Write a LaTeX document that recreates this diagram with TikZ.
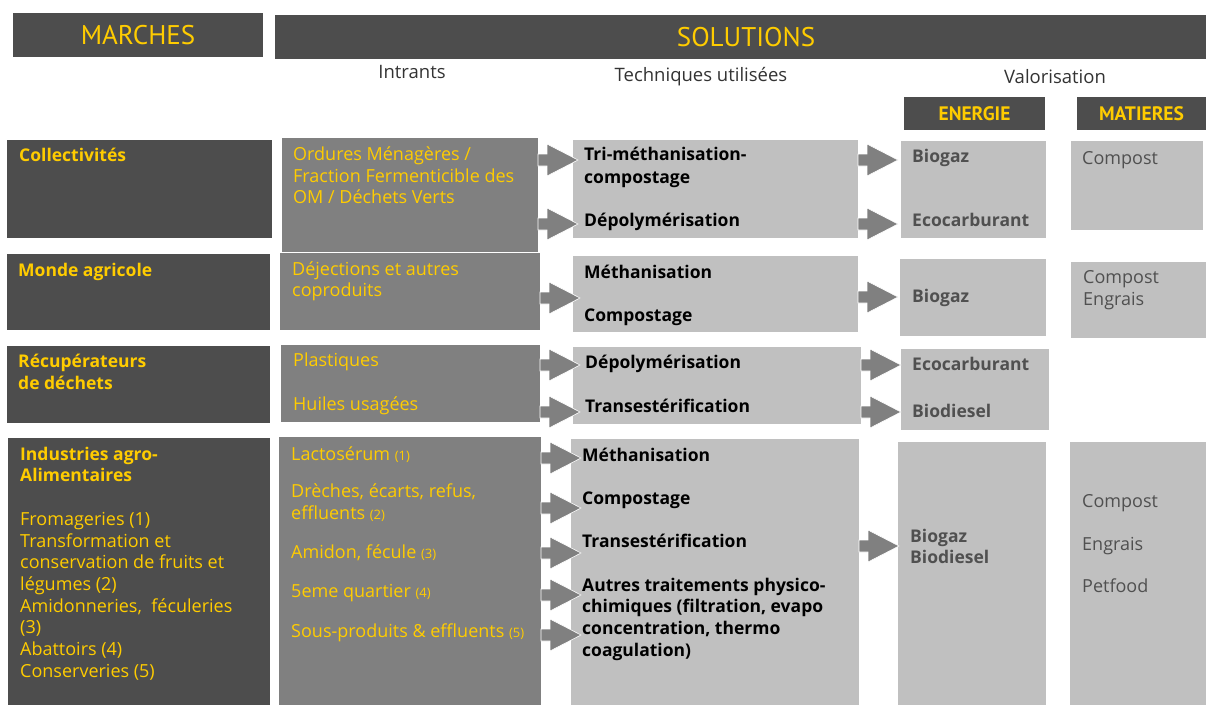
\documentclass[tikz,border=0pt]{standalone}
\usepackage{fontspec}
\setmainfont{Open Sans}
\newfontfamily\headfont{PT Sans}
\definecolor{dark}{HTML}{4D4D4D}
\definecolor{mid}{HTML}{808080}
\definecolor{light}{HTML}{C0C0C0}
\definecolor{gold}{HTML}{FFCC00}
\definecolor{valtext}{HTML}{505050}
\definecolor{lbltext}{HTML}{333333}
\tikzset{
  box/.style={anchor=north west, inner sep=0pt, outer sep=0pt, draw=none},
  darkbox/.style={box, fill=dark},
  midbox/.style={box, fill=mid},
  lightbox/.style={box, fill=light},
  txt/.style={anchor=mid west, inner sep=0pt, yshift=-3pt, font=\fontsize{18}{20}\selectfont},
  ytxt/.style={txt, text=gold},
  ybold/.style={txt, text=gold, font=\fontsize{17.5}{20}\selectfont\bfseries},
  ktxt/.style={txt, text=black, font=\fontsize{17.5}{20}\selectfont\bfseries},
  etxt/.style={txt, text=valtext, font=\fontsize{17.5}{20}\selectfont\bfseries},
  mtxt/.style={txt, text=valtext},
  hdr/.style={inner sep=0pt, text=gold, font=\headfont\fontsize{27}{30}\selectfont},
  subhdr/.style={inner sep=0pt, text=gold, font=\headfont\fontsize{19.5}{22}\selectfont\bfseries},
  lbl/.style={inner sep=0pt, text=lbltext, font=\fontsize{18.5}{21}\selectfont},
  arrowfill/.style={fill=mid, draw=white, line width=0.6pt}
}
% block arrow: shaft 9 long, head 31 long, starting at the given point
\newcommand\blockarrow[1]{%
  \filldraw[arrowfill] #1 ++(0,-6) -- ++(9,0) -- ++(0,-10) -- ++(31,16)
    -- ++(-31,16) -- ++(0,-10) -- ++(-9,0) -- cycle;}
\newcommand\sm[1]{{\fontsize{13}{15}\selectfont #1}}
\begin{document}
\begin{tikzpicture}[x=1pt,y=-1pt]
\useasboundingbox (0,0) rectangle (1206,705);

% ---- headers ----
\node[darkbox, minimum width=250, minimum height=44] (hm) at (13,13) {};
\node[hdr] at (hm.center) {MARCHES};
\node[darkbox, minimum width=931, minimum height=44] (hs) at (275,15) {};
\node[hdr] at (746,37) {SOLUTIONS};
\node[lbl] at (412,72) {Intrants};
\node[lbl] at (701,77) {Techniques utilisées};
\node[lbl] at (1055,77) {Valorisation};
\node[darkbox, minimum width=141, minimum height=33] (he) at (904,97) {};
\node[subhdr] at (he.center) {ENERGIE};
\node[darkbox, minimum width=129, minimum height=33] (hp) at (1077,97) {};
\node[subhdr] at (hp.center) {MATIERES};

% ---- row 1 : Collectivités ----
\node[darkbox, minimum width=265, minimum height=98] (m1) at (7,140) {};
\node[midbox, minimum width=256, minimum height=114] (i1) at (282,138) {};
\node[lightbox, minimum width=285, minimum height=98] (t1) at (573,140) {};
\node[lightbox, minimum width=145, minimum height=97] (e1) at (901,141) {};
\node[lightbox, minimum width=132, minimum height=89] (p1) at (1071,141) {};
\node[ybold] at (19,156) {Collectivités};
\node[ytxt] at (293,155) {Ordures Ménagères /};
\node[ytxt] at (293,177) {Fraction Fermenticible des};
\node[ytxt] at (293,198) {OM / Déchets Verts};
\node[ktxt] at (584,155) {Tri-méthanisation-};
\node[ktxt] at (584,178) {compostage};
\node[ktxt] at (584,221) {Dépolymérisation};
\node[etxt] at (912,157) {Biogaz};
\node[etxt] at (912,221) {Ecocarburant};
\node[mtxt] at (1082,159) {Compost};

% ---- row 2 : Monde agricole ----
\node[darkbox, minimum width=263, minimum height=76] (m2) at (7,254) {};
\node[midbox, minimum width=260, minimum height=77] (i2) at (280,253) {};
\node[lightbox, minimum width=285, minimum height=76] (t2) at (573,256) {};
\node[lightbox, minimum width=146, minimum height=77] (e2) at (900,259) {};
\node[lightbox, minimum width=135, minimum height=76] (p2) at (1071,262) {};
\node[ybold] at (18,271) {Monde agricole};
\node[ytxt] at (292,270) {Déjections et autres};
\node[ytxt] at (292,291) {coproduits};
\node[ktxt] at (584,273) {Méthanisation};
\node[ktxt] at (584,316) {Compostage};
\node[etxt] at (912,297) {Biogaz};
\node[mtxt] at (1083,278) {Compost};
\node[mtxt] at (1083,300) {Engrais};

% ---- row 3 : Récupérateurs de déchets ----
\node[darkbox, minimum width=263, minimum height=77] (m3) at (7,346) {};
\node[midbox, minimum width=259, minimum height=77] (i3) at (281,345) {};
\node[lightbox, minimum width=288, minimum height=77] (t3) at (573,347) {};
\node[lightbox, minimum width=148, minimum height=81] (e3) at (901,349) {};
\node[ybold] at (18,362) {Récupérateurs};
\node[ybold] at (18,384) {de déchets};
\node[ytxt] at (293,361) {Plastiques};
\node[ytxt] at (293,405) {Huiles usagées};
\node[ktxt] at (585,363) {Dépolymérisation};
\node[ktxt] at (585,407) {Transestérification};
\node[etxt] at (912,365) {Ecocarburant};
\node[etxt] at (912,412) {Biodiesel};

% ---- row 4 : Industries agro-alimentaires ----
\node[darkbox, minimum width=262, minimum height=267] (m4) at (8,438) {};
\node[midbox, minimum width=262, minimum height=268] (i4) at (279,437) {};
\node[lightbox, minimum width=288, minimum height=266] (t4) at (571,439) {};
\node[lightbox, minimum width=148, minimum height=263] (e4) at (898,442) {};
\node[lightbox, minimum width=136, minimum height=263] (p4) at (1070,442) {};
\node[ybold] at (20,455) {Industries agro-};
\node[ybold] at (20,476) {Alimentaires};
\node[ytxt] at (20,520) {Fromageries (1)};
\node[ytxt] at (20,542) {Transformation et};
\node[ytxt] at (20,563) {conservation de fruits et};
\node[ytxt] at (20,585) {légumes (2)};
\node[ytxt] at (20,607) {Amidonneries,\ \ féculeries};
\node[ytxt] at (20,628) {(3)};
\node[ytxt] at (20,650) {Abattoirs (4)};
\node[ytxt] at (20,672) {Conserveries (5)};
\node[ytxt] at (291,455) {Lactosérum \sm{(1)}};
\node[ytxt] at (291,492) {Drèches, écarts, refus,};
\node[ytxt] at (291,514) {effluents \sm{(2)}};
\node[ytxt] at (291,553) {Amidon, fécule \sm{(3)}};
\node[ytxt] at (291,592) {5eme quartier \sm{(4)}};
\node[ytxt] at (291,632) {Sous-produits \& effluents \sm{(5)}};
\node[ktxt] at (582,456) {Méthanisation};
\node[ktxt] at (582,499) {Compostage};
\node[ktxt] at (582,542) {Transestérification};
\node[ktxt] at (582,586) {Autres traitements physico-};
\node[ktxt] at (582,607) {chimiques (filtration, evapo};
\node[ktxt] at (582,629) {concentration, thermo};
\node[ktxt] at (582,651) {coagulation)};
\node[etxt] at (910,537) {Biogaz};
\node[etxt] at (910,558) {Biodiesel};
\node[mtxt] at (1082,502) {Compost};
\node[mtxt] at (1082,545) {Engrais};
\node[mtxt] at (1082,587) {Petfood};

% ---- arrows: intrants -> techniques ----
\blockarrow{(i1.east |- 0,160)}
\blockarrow{(i1.east |- 0,224)}
\blockarrow{(i2.east |- 0,298)}
\blockarrow{(i3.east |- 0,365)}
\blockarrow{(i3.east |- 0,412)}
\blockarrow{(i4.east |- 0,458)}
\blockarrow{(i4.east |- 0,508)}
\blockarrow{(i4.east |- 0,553)}
\blockarrow{(i4.east |- 0,595)}
\blockarrow{(i4.east |- 0,635)}

% ---- arrows: techniques -> energie ----
\blockarrow{(t1.east |- 0,160)}
\blockarrow{(t1.east |- 0,224)}
\blockarrow{(t2.east |- 0,297)}
\blockarrow{(t3.east |- 0,365)}
\blockarrow{(t3.east |- 0,412)}
\blockarrow{(t4.east |- 0,546)}
\end{tikzpicture}
\end{document}
